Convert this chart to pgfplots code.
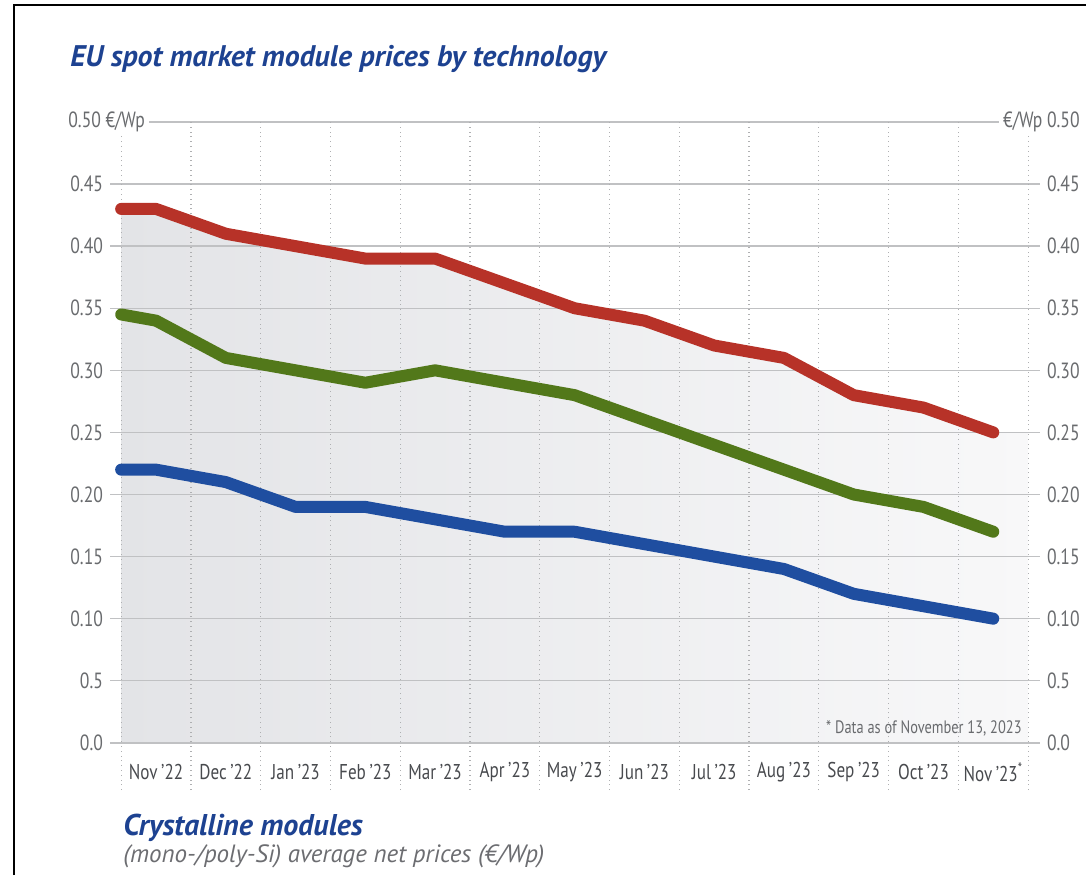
\documentclass[border=0pt]{standalone}
\usepackage{pgfplots}
\pgfplotsset{compat=1.18}
\usepackage{pgfplotstable}
\usepackage{fontspec}
\setmainfont{PT Sans}
\newfontfamily\cond[FakeStretch=0.8]{PT Sans}
\definecolor{ttl}{RGB}{29,66,145}
\definecolor{tick}{RGB}{105,107,110}
\definecolor{xlab}{RGB}{72,74,78}
\definecolor{subg}{RGB}{108,109,113}
\definecolor{gridc}{RGB}{192,193,195}
\definecolor{dotc}{RGB}{175,176,178}
\definecolor{cred}{RGB}{183,50,40}
\definecolor{cgreen}{RGB}{82,120,26}
\definecolor{cblue}{RGB}{31,78,160}
\definecolor{fillL}{RGB}{227,228,231}
\definecolor{fillR}{RGB}{248,248,249}

\pgfplotstableread{
x     red    green  blue
0     0.430  0.345  0.220
0.5   0.430  0.340  0.220
1.5   0.410  0.310  0.210
2.5   0.400  0.300  0.190
3.5   0.390  0.290  0.190
4.5   0.390  0.300  0.180
5.5   0.370  0.290  0.170
6.5   0.350  0.280  0.170
7.5   0.340  0.260  0.160
8.5   0.320  0.240  0.150
9.5   0.310  0.220  0.140
10.5  0.280  0.200  0.120
11.5  0.270  0.190  0.110
12.5  0.250  0.170  0.100
}\data

\pgfplotstableread{
x     y
0     0.430
0.5   0.430
1.5   0.410
2.5   0.400
3.5   0.390
4.5   0.390
5.5   0.370
6.5   0.350
7.5   0.340
8.5   0.320
9.5   0.310
10.5  0.280
11.5  0.270
12.5  0.250
13    0.250
}\areadata

\begin{document}
\begin{tikzpicture}
\path[use as bounding box] (0,0) rectangle (543pt,437.5pt);
\draw[line width=0.8pt, black] (7pt,0) -- (7pt,435pt) -- (543pt,435pt);

% background area + right-hand labels
\begin{axis}[
  at={(55pt,42.5pt)}, anchor=south west,
  width=465pt, height=334pt, scale only axis,
  xmin=-0.16, xmax=13.17, ymin=-0.038, ymax=0.5,
  axis line style={draw=none},
  major tick length=0pt,
  xtick=\empty,
  ytick={0,0.05,0.1,0.15,0.2,0.25,0.3,0.35,0.4,0.45,0.5},
  yticklabels={0.0,0.5,0.10,0.15,0.20,0.25,0.30,0.35,0.40,0.45,{}},
  yticklabel pos=right,
  yticklabel style={font=\cond\fontsize{11}{12}\selectfont, text=tick},
]
\addplot[draw=none, left color=fillL, right color=fillR] table[x=x, y=y] {\areadata} \closedcycle;
\end{axis}

% grid, left labels, lines
\begin{axis}[
  at={(55pt,42.5pt)}, anchor=south west,
  width=465pt, height=334pt, scale only axis,
  xmin=-0.16, xmax=13.17, ymin=-0.038, ymax=0.5,
  axis line style={draw=none},
  major tick length=0pt,
  xtick={0.5,1.5,2.5,3.5,4.5,5.5,6.5,7.5,8.5,9.5,10.5,11.5,12.5},
  xticklabels={Nov\,’22,Dec\,’22,Jan\,’23,Feb\,’23,Mar\,’23,Apr\,’23,May\,’23,Jun\,’23,Jul\,’23,Aug\,’23,Sep\,’23,Oct\,’23,Nov\,’23\textsuperscript{*}},
  xticklabel style={font=\cond\fontsize{10.7}{12}\selectfont, text=xlab, anchor=center, yshift=9pt},
  xmajorgrids=false,
  extra x ticks={0,1,2,3,4,5,6,7,8,9,10,11,12,13},
  extra x tick labels={},
  extra x tick style={xmajorgrids=true},
  x grid style={dotc, dotted, line width=0.6pt},
  ytick={0,0.05,0.1,0.15,0.2,0.25,0.3,0.35,0.4,0.45,0.5},
  yticklabels={0.0,0.5,0.10,0.15,0.20,0.25,0.30,0.35,0.40,0.45,{}},
  yticklabel style={font=\cond\fontsize{11}{12}\selectfont, text=tick},
  ymajorgrids=true,
  y grid style={gridc, line width=0.7pt},
]
\addplot[cred, line width=6pt, line cap=round, line join=round] table[x=x, y=red] {\data};
\addplot[cgreen, line width=6pt, line cap=round, line join=round] table[x=x, y=green] {\data};
\addplot[cblue, line width=6pt, line cap=round, line join=round] table[x=x, y=blue] {\data};
\end{axis}

\node[anchor=west, fill=white, inner xsep=2pt, inner ysep=1pt, text=tick, font=\cond\fontsize{11}{12}\selectfont] at (32pt,376.5pt) {0.50 €/Wp};
\node[anchor=east, fill=white, inner xsep=2pt, inner ysep=1pt, text=tick, font=\cond\fontsize{11}{12}\selectfont] at (542pt,376.5pt) {€/Wp 0.50};

\node[anchor=east, inner sep=0pt, text=tick, font=\cond\fontsize{9}{10}\selectfont] at (511pt,73.5pt) {* Data as of November 13, 2023};

\node[anchor=base west, inner sep=0pt, text=ttl, font=\bfseries\itshape\fontsize{14.9}{17}\selectfont] at (35pt,404pt) {EU spot market module prices by technology};
\node[anchor=base west, inner sep=0pt, text=ttl, font=\bfseries\itshape\fontsize{15}{17}\selectfont] at (61.5pt,20pt) {Crystalline modules};
\node[anchor=base west, inner sep=0pt, text=subg, font=\itshape\fontsize{12.5}{14}\selectfont] at (61.5pt,6.5pt) {(mono-/poly-Si) average net prices (€/Wp)};
\end{tikzpicture}
\end{document}
